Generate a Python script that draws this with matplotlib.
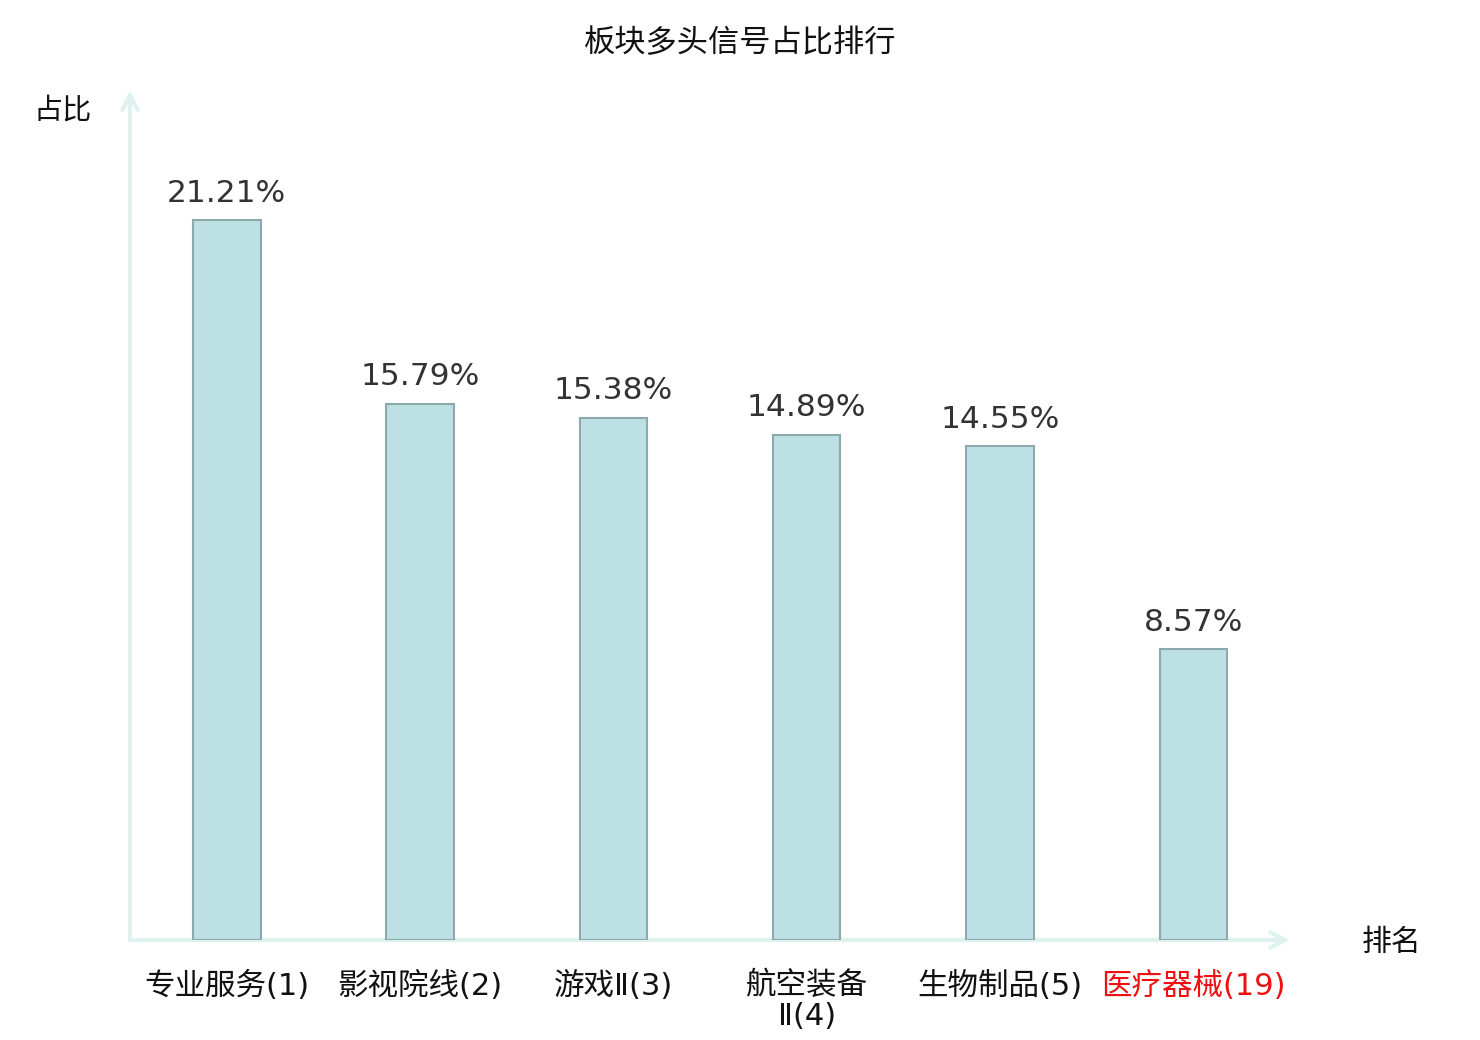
import matplotlib
matplotlib.use("Agg")
import matplotlib.pyplot as plt

plt.rcParams['font.family'] = ['Noto Sans CJK SC', 'DejaVu Sans']

title = "板块多头信号占比排行"
categories = ["专业服务(1)", "影视院线(2)", "游戏Ⅱ(3)", "航空装备\nⅡ(4)", "生物制品(5)", "医疗器械(19)"]
values = [21.21, 15.79, 15.38, 14.89, 14.55, 8.57]
highlight = [False, False, False, False, False, True]
y_name = "占比"
x_name = "排名"

fig = plt.figure(figsize=(14.8, 10.4), dpi=100)
ax = fig.add_axes([130/1480, 100/1040, 1160/1480, 850/1040])
ax.set_xlim(-0.5, len(categories) - 0.5)
ax.set_ylim(0, 25.04)

xs = list(range(len(categories)))
bars = ax.bar(xs, values, width=0.35, color="#bce0e3", edgecolor="#8ea9ab", linewidth=1.5, zorder=3)
for x, v in zip(xs, values):
    ax.annotate(f"{v:.2f}%", (x, v), xytext=(0, 9), textcoords="offset points",
                ha="center", va="bottom", fontsize=22.5, color="#333333",
                family=['DejaVu Sans'])

for s in ax.spines.values():
    s.set_visible(False)
ax.set_yticks([])
ax.set_xticks(xs)
ax.set_xticklabels(categories, fontsize=22, linespacing=1.1,
                   family=['DejaVu Sans', 'Noto Sans CJK SC'])
for lab, h in zip(ax.get_xticklabels(), highlight):
    lab.set_color("#ee1111" if h else "#111111")
ax.tick_params(axis='x', length=0, pad=22)
for lab in ax.get_xticklabels():
    lab.set_verticalalignment('top')

axis_color = "#dff2f0"
ax.annotate("", xy=(1.0, 0), xytext=(0, 0), xycoords="axes fraction",
            arrowprops=dict(arrowstyle="->,head_length=1.1,head_width=0.55", color=axis_color, lw=3,
                            shrinkA=0, shrinkB=0), zorder=1)
ax.annotate("", xy=(0, 1.0), xytext=(0, 0), xycoords="axes fraction",
            arrowprops=dict(arrowstyle="->,head_length=1.1,head_width=0.55", color=axis_color, lw=3,
                            shrinkA=0, shrinkB=0), zorder=1)

fig.text(740/1480, 1 - 43/1040, title, ha="center", va="center", fontsize=22.5, color="#111111")
fig.text(63/1480, 1 - 110/1040, y_name, ha="center", va="center", fontsize=21, color="#111111")
fig.text(1392/1480, 1 - 942/1040, x_name, ha="center", va="center", fontsize=21.5, color="#111111")

fig.savefig("out.png", dpi=100)
